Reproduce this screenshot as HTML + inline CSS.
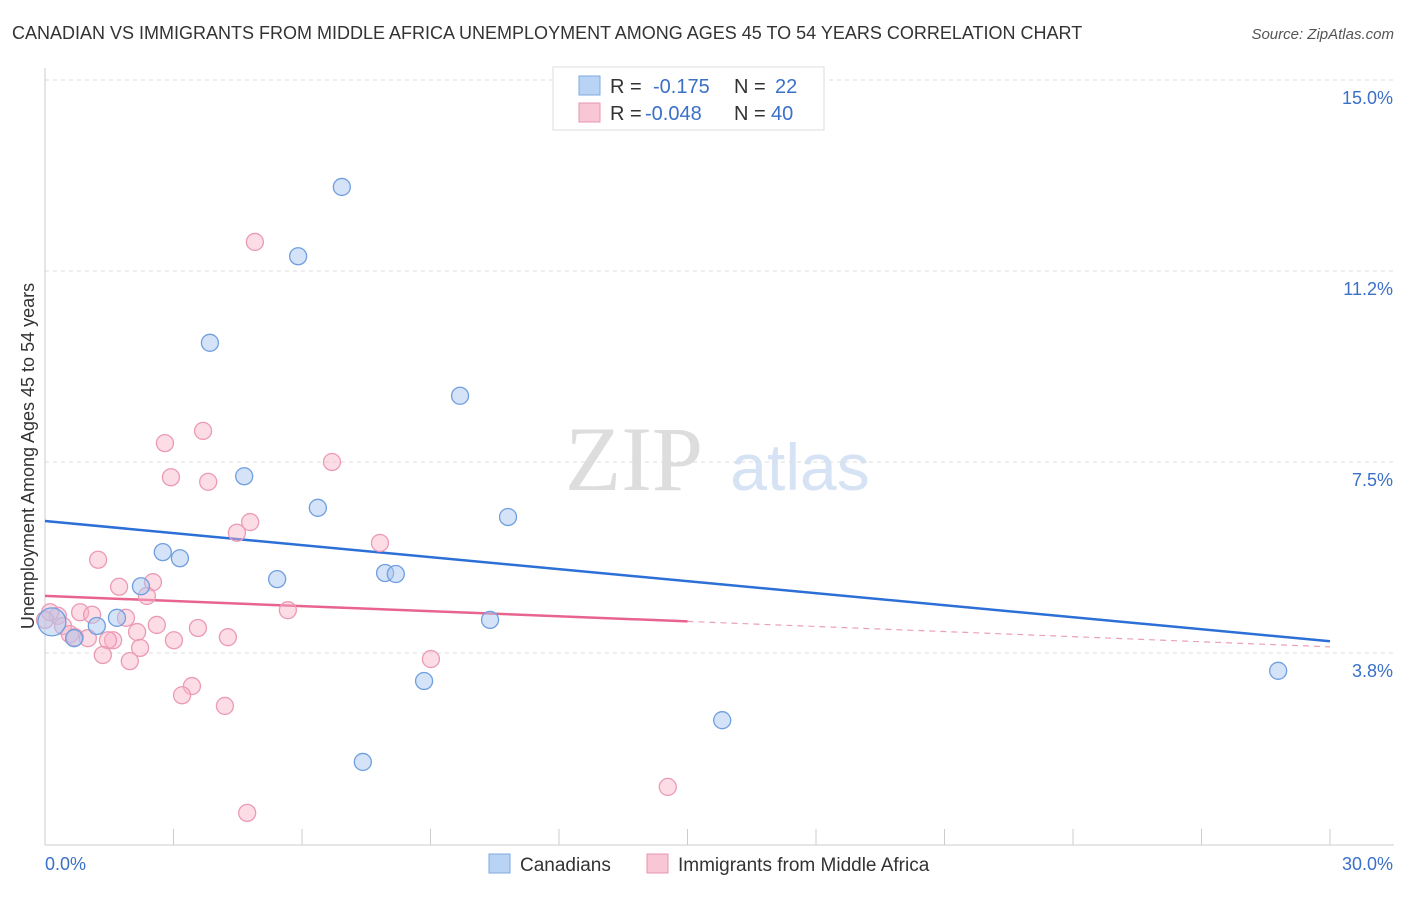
<!DOCTYPE html>
<html><head><meta charset="utf-8">
<style>
body{margin:0;background:#fff;font-family:"Liberation Sans",sans-serif;}
svg text{font-family:"Liberation Sans",sans-serif;}
</style></head>
<body>
<svg id="chart" width="1406" height="892" xmlns="http://www.w3.org/2000/svg">
<text x="12" y="39" font-size="18" fill="#333">CANADIAN VS IMMIGRANTS FROM MIDDLE AFRICA UNEMPLOYMENT AMONG AGES 45 TO 54 YEARS CORRELATION CHART</text>
<text x="1394" y="39" font-size="15" fill="#555" font-style="italic" text-anchor="end">Source: ZipAtlas.com</text>
<text x="0" y="0" transform="translate(34,456) rotate(-90)" font-size="18" fill="#333" text-anchor="middle">Unemployment Among Ages 45 to 54 years</text>
<g>
<text x="634" y="490" font-size="92" fill="#ddd" font-family="Liberation Serif" text-anchor="middle" style="font-family:'Liberation Serif',serif">ZIP</text>
<text x="800" y="490" font-size="66" fill="#d5e3f5" text-anchor="middle">atlas</text>
</g>
<g id="grid"></g><g id="axes"></g><g id="trends"></g><g id="points"></g>
<g>
<rect x="553" y="67" width="271" height="63" fill="#fff" stroke="#ddd"/>
<rect x="579" y="76" width="21" height="19" fill="#b8d3f4" stroke="#7fa8e0"/>
<rect x="579" y="103" width="21" height="19" fill="#f9c6d5" stroke="#e896b0"/>
<text x="610" y="93" font-size="20" fill="#333">R =</text>
<text x="653" y="93" font-size="20" fill="#3a70c8">-0.175</text>
<text x="734" y="93" font-size="20" fill="#333">N =</text>
<text x="775" y="93" font-size="20" fill="#3a70c8">22</text>
<text x="610" y="120" font-size="20" fill="#333">R =</text>
<text x="645" y="120" font-size="20" fill="#3a70c8">-0.048</text>
<text x="734" y="120" font-size="20" fill="#333">N =</text>
<text x="771" y="120" font-size="20" fill="#3a70c8">40</text>
</g>
<g>
<rect x="489" y="854" width="21" height="19" fill="#b8d3f4" stroke="#7fa8e0"/>
<text x="520" y="871" font-size="19" fill="#333">Canadians</text>
<rect x="647" y="854" width="21" height="19" fill="#f9c6d5" stroke="#e896b0"/>
<text x="678" y="871" font-size="19" fill="#333">Immigrants from Middle Africa</text>
</g>
</svg>
<script>
const yTicks=[15.0,11.25,7.5,3.75];
const yTickLabels=["15.0%","11.2%","7.5%","3.8%"];
const xTickCount=10;
const blueX=[6.93,5.91,3.85,9.69,4.65,6.37,10.81,2.75,3.15,5.42,7.94,8.19,2.24,1.68,10.39,1.21,0.68,0.16,8.85,15.81,28.79,7.42];
const blueY=[12.90,11.54,9.84,8.80,7.22,6.60,6.42,5.73,5.61,5.20,5.32,5.30,5.06,4.44,4.40,4.28,4.04,4.36,3.20,2.43,3.40,1.61];
const pinkX=[4.90,3.69,2.80,6.70,2.94,3.81,4.79,4.48,7.82,1.24,2.52,1.73,2.38,5.67,0.82,1.10,0.30,1.89,0.12,2.61,2.15,0.42,3.57,3.01,4.27,1.59,1.47,0.58,0.70,2.22,1.35,1.98,9.01,3.43,3.20,4.20,14.54,4.72,0.0,1.00];
const pinkY=[11.82,8.11,7.87,7.50,7.20,7.11,6.32,6.11,5.91,5.58,5.14,5.05,4.87,4.59,4.55,4.50,4.48,4.44,4.55,4.30,4.16,4.28,4.24,4.00,4.06,4.00,4.00,4.12,4.06,3.85,3.71,3.59,3.63,3.10,2.92,2.71,1.12,0.61,4.40,4.04];
const blueTrend=[6.34,3.98];
const pinkTrend=[4.87,3.87];
const pinkSolidEnd=15;

const NS="http://www.w3.org/2000/svg";
const X=v=>45+v/30*1285;
const Y=v=>80+(15-v)*50.93;
function mk(tag,attrs,parent){const e=document.createElementNS(NS,tag);for(const k in attrs)e.setAttribute(k,attrs[k]);parent.appendChild(e);return e;}
const grid=document.getElementById('grid'),axes=document.getElementById('axes'),trends=document.getElementById('trends'),pts=document.getElementById('points');
yTicks.forEach((t,i)=>{
  const l=mk('line',{x1:45,x2:1394,y1:Y(t),y2:Y(t),stroke:'#ddd','stroke-dasharray':'4,4'},grid);
  
  
  const tx=mk('text',{x:1393,y:Y(t)+24,'font-size':18,fill:'#3a70c8','text-anchor':'end'},axes);
  tx.textContent=yTickLabels[i];
  
  
});
const ya=mk('line',{x1:45,x2:45,y1:68,y2:845,stroke:'#ccc'},axes);


const xa=mk('line',{x1:45,x2:1394,y1:845,y2:845,stroke:'#ccc'},axes);


for(let i=1;i<=xTickCount;i++){
  const x=X(i*3);
  const t=mk('line',{x1:x,x2:x,y1:829,y2:845,stroke:'#ccc'},axes);
  
  
}
const xl0=mk('text',{x:45,y:870,'font-size':18,fill:'#3a70c8'},axes);xl0.textContent="0.0%";


const xl1=mk('text',{x:1393,y:870,'font-size':18,fill:'#3a70c8','text-anchor':'end'},axes);xl1.textContent="30.0%";



function dot(x,y,fill,stroke,r,name){
  const c=mk('circle',{cx:X(x),cy:Y(y),r:r,fill:fill,stroke:stroke,'stroke-width':1.3},pts);
  
  
}
pinkX.forEach((x,i)=>dot(x,pinkY[i],'rgba(248,180,200,0.45)','#eb9ab5',8.5,'immigrant-point'));
blueX.forEach((x,i)=>dot(x,blueY[i],'rgba(170,200,240,0.5)','#6f9fdf',i===17?14:8.5,'canadian-point'));

const bt=mk('line',{x1:X(0),y1:Y(blueTrend[0]),x2:X(30),y2:Y(blueTrend[1]),stroke:'#2c6fd6','stroke-width':2.5},trends);


const pMid=pinkTrend[0]+(pinkTrend[1]-pinkTrend[0])*pinkSolidEnd/30;
const ps=mk('line',{x1:X(0),y1:Y(pinkTrend[0]),x2:X(pinkSolidEnd),y2:Y(pMid),stroke:'#e8648f','stroke-width':2.5},trends);


const pd=mk('line',{x1:X(pinkSolidEnd),y1:Y(pMid),x2:X(30),y2:Y(pinkTrend[1]),stroke:'#eba0b8','stroke-width':1.2,'stroke-dasharray':'6,5'},trends);


</script>
</body></html>
